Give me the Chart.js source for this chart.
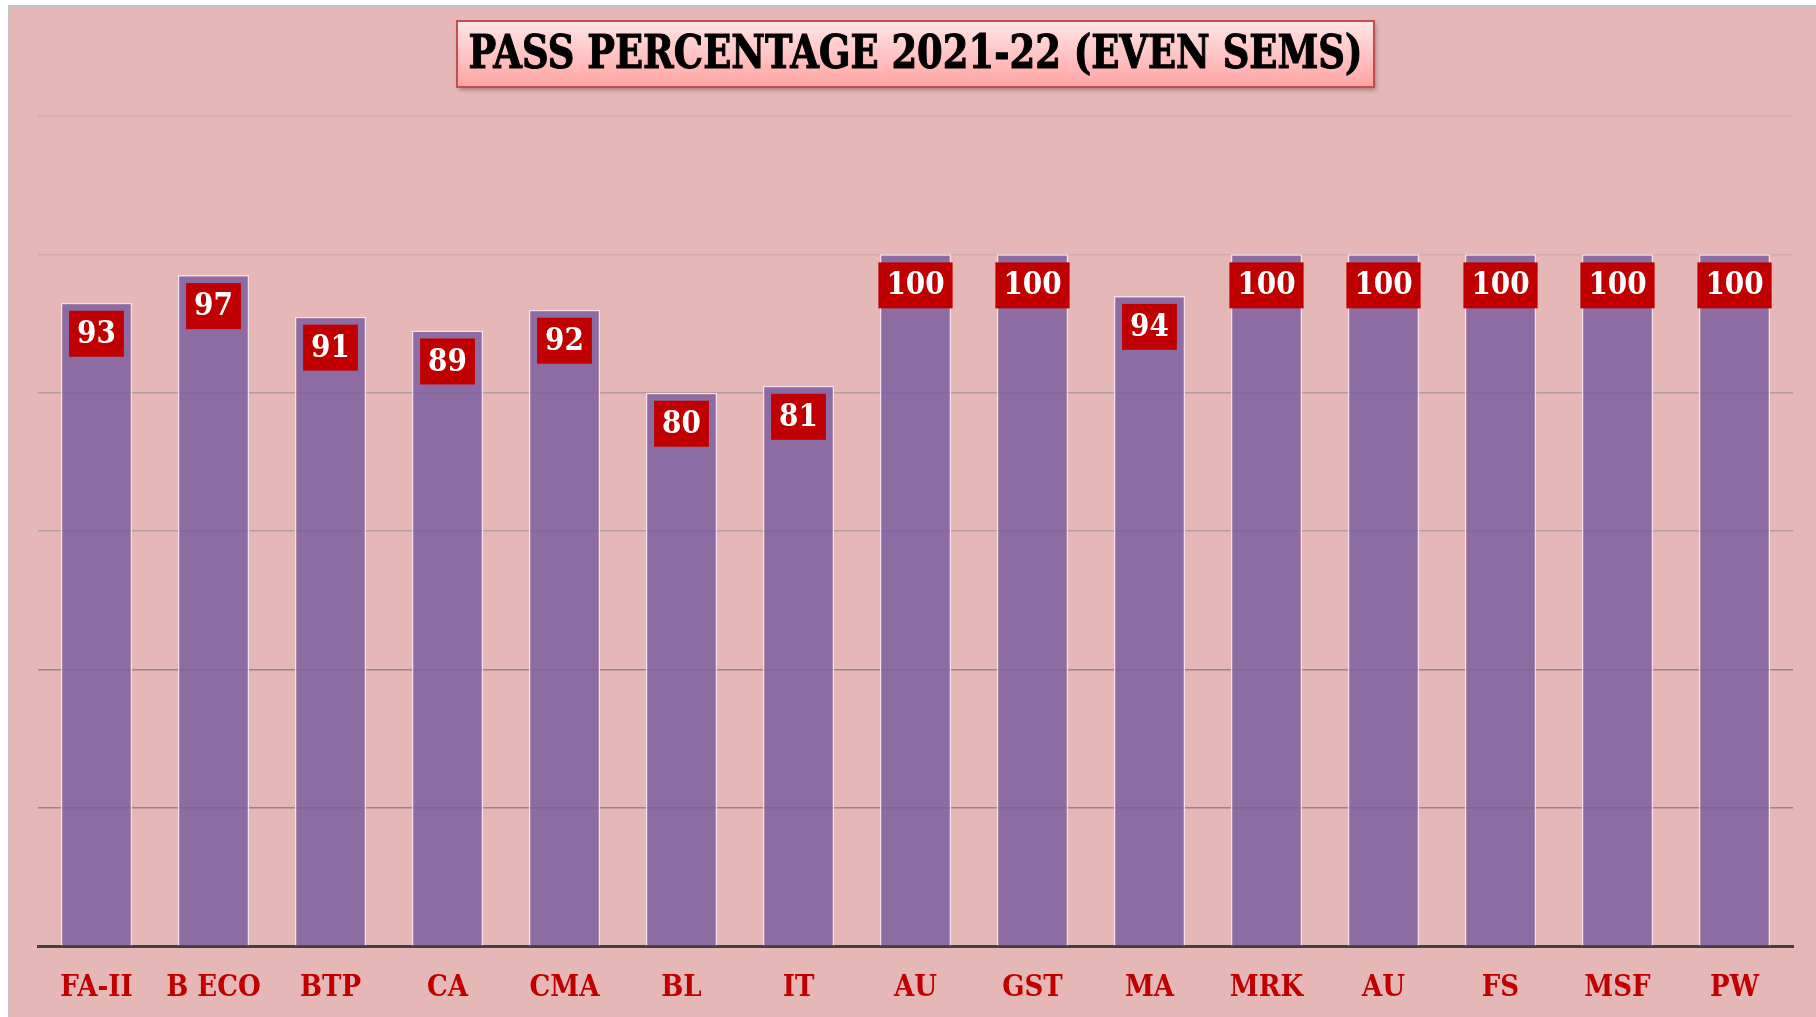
<!DOCTYPE html>
<html>
<head>
<meta charset="utf-8">
<script src="https://cdn.jsdelivr.net/npm/chart.js@4.4.1/dist/chart.umd.min.js"></script>
<style>
  html, body { margin: 0; padding: 0; background: #ffffff; overflow: hidden; }
  .frame {
    position: absolute; left: 8px; top: 5px; width: 1830px; height: 1030px;
    background: #e5b7b6; border: 2px solid #c4c4c4;
  }
  .wrap { position: absolute; left: 0; top: 0; width: 1816px; height: 1017px; overflow: hidden; }
</style>
</head>
<body>
<div class="frame"></div>
<div class="wrap"><canvas id="passChart" width="1816" height="1043"></canvas></div>
<script>
// chart data
const chartTitle = 'PASS PERCENTAGE 2021-22 (EVEN SEMS)';
const subjects = ['FA-II', 'B ECO', 'BTP', 'CA', 'CMA', 'BL', 'IT', 'AU', 'GST', 'MA', 'MRK', 'AU', 'FS', 'MSF', 'PW'];
const passPercent = [93, 97, 91, 89, 92, 80, 81, 100, 100, 94, 100, 100, 100, 100, 100];
const yTicks = [0, 20, 40, 60, 80, 100, 120];

const serifFont = '"DejaVu Serif Condensed", "DejaVu Serif", "Liberation Serif", serif';

// title box drawn at the top of the canvas
const titlePlugin = {
  id: 'boxTitle',
  afterDraw(chart) {
    const ctx = chart.ctx;
    const x = 457, y = 21, w = 917, h = 66;
    ctx.save();
    ctx.shadowColor = 'rgba(90,60,60,0.45)';
    ctx.shadowOffsetX = 2;
    ctx.shadowOffsetY = 3;
    ctx.shadowBlur = 4;
    const grad = ctx.createLinearGradient(0, y, 0, y + h);
    grad.addColorStop(0, '#ffe6e6');
    grad.addColorStop(1, '#ffa3a3');
    ctx.fillStyle = grad;
    ctx.fillRect(x, y, w, h);
    ctx.shadowColor = 'transparent';
    ctx.strokeStyle = '#c0504d';
    ctx.lineWidth = 2;
    ctx.strokeRect(x, y, w, h);

    ctx.font = 'bold 46px ' + serifFont;
    ctx.fillStyle = '#000000';
    ctx.strokeStyle = '#000000';
    ctx.lineWidth = 1;
    ctx.textAlign = 'center';
    ctx.textBaseline = 'middle';
    const tw = ctx.measureText(chartTitle).width;
    const sx = 894 / tw;
    ctx.translate(x + w / 2, y + h / 2 + 2);
    ctx.scale(sx, 1);
    ctx.fillText(chartTitle, 0, 0);
    ctx.strokeText(chartTitle, 0, 0);
    ctx.restore();
  }
};

// red value boxes inside the top of each bar
const valueBoxPlugin = {
  id: 'valueBoxes',
  afterDatasetsDraw(chart) {
    const ctx = chart.ctx;
    const meta = chart.getDatasetMeta(0);
    ctx.save();
    ctx.font = 'bold 31px ' + serifFont;
    ctx.textAlign = 'center';
    ctx.textBaseline = 'middle';
    meta.data.forEach((bar, i) => {
      const txt = String(passPercent[i]);
      const tw = ctx.measureText(txt).width;
      const bw = tw + 16, bh = 46;
      const top = bar.y + 8;
      ctx.fillStyle = '#c00000';
      ctx.fillRect(bar.x - bw / 2, top, bw, bh);
      ctx.fillStyle = '#ffffff';
      ctx.fillText(txt, bar.x, top + bh / 2 + 1);
    });
    ctx.restore();
  }
};

function gridColour(value) {
  if (value <= 40) return '#9c8484';
  if (value <= 80) return '#b49c9c';
  return '#d3abab';
}

const ctx = document.getElementById('passChart').getContext('2d');
const passChart = new Chart(ctx, {
  type: 'bar',
  data: {
    labels: subjects,
    datasets: [{
      data: passPercent,
      backgroundColor: 'rgba(125,95,160,0.86)',
      borderColor: 'rgba(246,226,240,0.95)',
      borderWidth: 1.5,
      categoryPercentage: 1,
      barPercentage: 0.61
    }]
  },
  options: {
    responsive: false,
    animation: false,
    layout: { padding: { left: 38, right: 23, top: 116, bottom: 12 } },
    plugins: {
      legend: { display: false },
      title: { display: false },
      tooltip: { enabled: false }
    },
    scales: {
      x: {
        grid: { display: false, drawTicks: false },
        border: { display: true, color: '#404040', width: 3 },
        ticks: {
          color: '#c00000',
          padding: 25,
          font: { family: serifFont, size: 29, weight: 'bold' }
        }
      },
      y: {
        min: yTicks[0],
        max: yTicks[yTicks.length - 1],
        afterBuildTicks(axis) {
          axis.ticks = yTicks.map(v => ({ value: v }));
        },
        ticks: { display: false },
        border: { display: false },
        grid: {
          drawTicks: false,
          lineWidth: 1.5,
          color: c => gridColour(c.tick ? c.tick.value : 0)
        }
      }
    }
  },
  plugins: [titlePlugin, valueBoxPlugin]
});
</script>
</body>
</html>
